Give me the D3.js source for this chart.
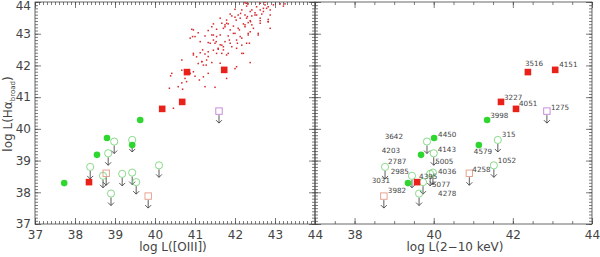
<!DOCTYPE html>
<html>
<head>
<meta charset="utf-8">
<script src="https://cdn.jsdelivr.net/npm/d3@7"></script>
<style>
  body { margin: 0; background: #fff; }
  text { font-family: "DejaVu Sans", sans-serif; fill: #444; }
</style>
</head>
<body>
<svg id="chart" width="600" height="257"></svg>
<script>
// ---- data: log L(Halpha broad) against log L([OIII]) and log L(2-10 keV)
// broad-line objects (red squares)
var redIds  = ["3516", "4151", "3227", "4051", "4395"];
var redOIII = [40.80, 41.73, 40.68, 40.18, 38.35];
var redX    = [42.38, 43.07, 41.70, 42.08, 39.58];
var redHa   = [41.79, 41.86, 40.85, 40.63, 38.32];

// detections (filled green circles)
var detIds  = ["3998", "4450", "4579", "4203", "3031"];
var detOIII = [39.63, 38.80, 39.43, 38.55, 37.73];
var detX    = [41.35, 40.01, 41.14, 39.68, 39.35];
var detHa   = [40.28, 39.71, 39.49, 39.18, 38.29];

// upper limits (open green circles)
var limIds  = ["3642", "315", "4143", "2787", "2985", "1052", "5005", "4036", "5077", "4278"];
var limOIII = [38.98, 39.43, 38.83, 38.38, 38.70, 40.10, 39.18, 39.43, 39.53, 38.90];
var limX    = [39.83, 41.62, 40.00, 38.77, 39.45, 41.52, 39.91, 39.98, 39.73, 39.63];
var limHa   = [39.60, 39.65, 39.23, 38.80, 38.52, 38.85, 38.58, 38.62, 38.32, 37.96];

// upper limits (open squares)
var sqIds   = ["1275", "4258", "3982"];
var sqOIII  = [41.60, 38.78, 39.83];
var sqX     = [42.86, 40.90, 38.74];
var sqHa    = [40.56, 38.60, 37.88];

// comparison sample (small red dots, left panel only)
var cloudOIII = [
  42.25, 42.33, 42.29, 42.63, 42.75, 42.83, 43.13, 43.21, 42.71, 42.00,
  42.17, 42.38, 42.50, 42.63, 42.88, 41.88, 42.08, 42.25, 42.42, 42.54,
  42.67, 41.92, 42.00, 42.13, 42.29, 42.38, 42.63, 42.83, 41.63, 41.79,
  41.46, 41.67, 41.75, 41.83, 41.96, 42.21, 42.33, 42.42, 42.63, 42.83,
  41.42, 40.96, 41.08, 41.33, 41.54, 41.71, 41.88, 42.08, 42.25, 42.38,
  42.58, 42.88, 40.88, 41.00, 41.25, 41.42, 41.54, 41.63, 41.83, 42.00,
  42.13, 42.33, 41.13, 41.33, 41.46, 41.50, 41.63, 41.75, 41.88, 42.04,
  42.29, 41.71, 42.17, 41.13, 41.25, 41.33, 41.46, 41.58, 41.67, 41.79,
  42.04, 42.17, 40.96, 41.04, 41.17, 41.29, 41.42, 41.08, 41.21, 42.38,
  42.04, 40.67, 40.42, 40.67, 40.88, 40.96, 41.00, 40.75, 40.67, 40.79,
  41.21, 41.33, 40.58, 41.25, 41.50, 40.36, 41.79, 40.46, 40.69, 42.00,
  40.39, 42.28, 42.75, 43.25, 40.92, 40.94, 40.96, 41.11, 41.17, 41.19,
  41.28, 41.33, 41.38, 41.46, 41.53, 41.54, 41.58, 41.63, 41.67, 41.71,
  41.75, 41.79, 41.83, 41.86, 41.92, 41.96, 42.03, 42.06, 42.11, 42.14,
  42.17, 42.21, 42.25, 42.31, 42.33, 42.36, 42.39, 42.42, 42.46, 42.50,
  42.54, 42.58, 42.63, 42.71, 42.79, 42.83, 42.88, 42.96
];
var cloudHa = [
  43.98, 43.94, 43.87, 43.96, 43.91, 43.85, 43.94, 43.87, 43.80, 43.77,
  43.75, 43.70, 43.66, 43.75, 43.75, 43.62, 43.59, 43.59, 43.56, 43.59,
  43.62, 43.56, 43.52, 43.49, 43.49, 43.41, 43.41, 43.45, 43.49, 43.43,
  43.31, 43.33, 43.28, 43.31, 43.24, 43.31, 43.35, 43.28, 43.33, 43.38,
  43.22, 43.12, 43.03, 43.10, 43.14, 43.17, 43.12, 43.17, 43.22, 43.06,
  43.01, 43.17, 42.86, 42.91, 42.93, 42.96, 42.91, 42.96, 42.93, 43.01,
  42.91, 42.96, 42.75, 42.72, 42.80, 42.70, 42.65, 42.75, 42.70, 42.80,
  42.70, 42.59, 42.64, 42.40, 42.36, 42.43, 42.48, 42.51, 42.38, 42.33,
  42.54, 42.38, 42.33, 42.27, 42.12, 42.17, 42.09, 42.06, 42.01, 42.09,
  41.96, 42.17, 41.75, 41.85, 41.75, 41.80, 41.66, 41.59, 41.45, 41.49,
  41.64, 41.75, 41.33, 41.33, 41.31, 41.28, 41.59, 40.65, 41.25, 41.90,
  41.67, 43.96, 43.99, 43.94, 43.14, 42.91, 42.38, 41.54, 42.12, 42.49,
  42.01, 42.28, 42.70, 42.96, 42.75, 42.38, 42.54, 42.07, 42.64, 42.49,
  43.22, 43.33, 42.38, 42.80, 42.59, 43.01, 43.43, 42.70, 43.12, 43.64,
  42.86, 42.38, 43.28, 43.54, 43.01, 42.70, 43.38, 43.75, 43.17, 43.59,
  43.85, 42.96, 43.49, 43.70, 43.80, 43.38, 43.59, 43.91
];

var leftTicks  = ["37", "38", "39", "40", "41", "42", "43", "44"];
var rightTicks = ["38", "40", "42", "44"];
var yTicks     = ["37", "38", "39", "40", "41", "42", "43", "44"];

// ---- layout
var svg = d3.select("#chart");
var plotTop = 2, plotBottom = 224;
var xL = d3.scaleLinear().domain([37, 44]).range([35, 315]);
var xR = d3.scaleLinear().domain([37, 44]).range([315, 592]);
var y  = d3.scaleLinear().domain([37, 44]).range([plotBottom, plotTop]);

var frameColor = "#444";

function tidy(g) {
    g.select(".domain").remove();
    g.selectAll("line").attr("stroke", frameColor).attr("stroke-width", 0.7);
    g.selectAll("text").attr("font-size", "12px").attr("fill", "#444");
}

function drawAxes(x, majors, minorStep, labels, yLabels) {
    var minors = d3.range(37, 44.0001, minorStep);
    // bottom
    svg.append("g").attr("transform", "translate(0," + plotBottom + ")")
        .call(d3.axisBottom(x).tickValues(minors).tickSize(-3).tickFormat("")).call(tidy);
    svg.append("g").attr("transform", "translate(0," + plotBottom + ")")
        .call(d3.axisBottom(x).tickValues(majors).tickSize(-6).tickPadding(6)
              .tickFormat(function(d) { return labels.indexOf(String(d)) >= 0 ? d : ""; }))
        .call(tidy);
    // top
    svg.append("g").attr("transform", "translate(0," + plotTop + ")")
        .call(d3.axisTop(x).tickValues(minors).tickSize(-3).tickFormat("")).call(tidy);
    svg.append("g").attr("transform", "translate(0," + plotTop + ")")
        .call(d3.axisTop(x).tickValues(majors).tickSize(-6).tickFormat("")).call(tidy);

    var x0 = x.range()[0], x1 = x.range()[1];
    var yMinor = d3.range(37, 44.0001, 0.1);
    var yMajor = yTicks.map(Number);
    svg.append("g").attr("transform", "translate(" + x0 + ",0)")
        .call(d3.axisLeft(y).tickValues(yMinor).tickSize(-3).tickFormat("")).call(tidy);
    var ly = svg.append("g").attr("transform", "translate(" + x0 + ",0)")
        .call(d3.axisLeft(y).tickValues(yMajor).tickSize(-6).tickPadding(4)
              .tickFormat(yLabels ? d3.format("d") : ""))
        .call(tidy);
    ly.selectAll(".tick text").filter(function(d) { return d === 44; }).attr("dy", "0.6em");
    svg.append("g").attr("transform", "translate(" + x1 + ",0)")
        .call(d3.axisRight(y).tickValues(yMinor).tickSize(-3).tickFormat("")).call(tidy);
    svg.append("g").attr("transform", "translate(" + x1 + ",0)")
        .call(d3.axisRight(y).tickValues(yMajor).tickSize(-6).tickFormat("")).call(tidy);

    svg.append("rect")
        .attr("x", x0).attr("y", plotTop)
        .attr("width", x1 - x0).attr("height", plotBottom - plotTop)
        .attr("fill", "none").attr("stroke", frameColor).attr("stroke-width", 0.8);
}

drawAxes(xL, d3.range(37, 45, 1), 0.1, leftTicks, true);
drawAxes(xR, d3.range(38, 45, 2), 0.5, rightTicks, false);

// ---- axis titles
svg.append("text").attr("x", 173).attr("y", 251)
    .attr("text-anchor", "middle").attr("font-size", "12px")
    .text("log L([OIII])");
svg.append("text").attr("x", 455).attr("y", 251)
    .attr("text-anchor", "middle").attr("font-size", "12px")
    .text("log L(2\u221210 keV)");
var yt = svg.append("text")
    .attr("transform", "translate(12,114) rotate(-90)")
    .attr("text-anchor", "middle").attr("font-size", "12px");
yt.append("tspan").text("log L(H\u03b1");
yt.append("tspan").attr("font-size", "7px").attr("dy", "3").text("broad");
yt.append("tspan").attr("dy", "-3").text(")");

// ---- markers
svg.append("clipPath").attr("id", "clipL").append("rect")
    .attr("x", 35).attr("y", plotTop).attr("width", 280).attr("height", plotBottom - plotTop);

var cloud = d3.zip(cloudOIII, cloudHa);
svg.append("g").attr("clip-path", "url(#clipL)")
    .selectAll("rect").data(cloud).join("rect")
    .attr("x", function(d) { return xL(d[0]) - 0.75; })
    .attr("y", function(d) { return y(d[1]) - 0.75; })
    .attr("width", 1.5).attr("height", 1.5)
    .attr("fill", "#d8262a");

var arrowColor = "#333";
function arrows(g, pts) {
    g.selectAll("path.arr").data(pts).join("path").attr("class", "arr")
        .attr("d", function(d) {
            var cx = d[0], cy = d[1];
            return "M" + cx + "," + (cy + 4) + "V" + (cy + 12) +
                   "M" + (cx - 3) + "," + (cy + 9) + "L" + cx + "," + (cy + 12) + "L" + (cx + 3) + "," + (cy + 9);
        })
        .attr("fill", "none").attr("stroke", arrowColor).attr("stroke-width", 0.8);
}

var sqColour = { "1275": "#c57fd8", "4258": "#e39a86", "3982": "#e39a86" };

var labelNudge = {
    "3516": [-3, -9, "start"], "4151": [4, -5, "start"], "3227": [3, -4, "start"],
    "4051": [3, -5, "start"], "4395": [2, -6, "start"], "3998": [3, -4, "start"],
    "4450": [4, -4, "start"], "4579": [-5, 6, "start"], "4203": [-21, -4, "end"],
    "3031": [-18, -3, "end"], "3642": [-24, -5, "end"], "315": [4, -5, "start"],
    "4143": [4, -4, "start"], "2787": [3, -5, "start"], "2985": [-3, -4, "end"],
    "1052": [4, -5, "start"], "5005": [5, -12, "start"], "4036": [5, -1, "start"],
    "5077": [9, 2, "start"], "4278": [19, 0, "start"], "1275": [4, -4, "start"],
    "4258": [3, -4, "start"], "3982": [4, -6, "start"]
};

function panel(x, oRed, oDet, oLim, oSq, withLabels) {
    var g = svg.append("g");
    var lim = d3.zip(oLim, limHa, limIds).map(function(d) { return [x(d[0]), y(d[1]), d[2]]; });
    var sq  = d3.zip(oSq, sqHa, sqIds).map(function(d) { return [x(d[0]), y(d[1]), d[2]]; });
    var det = d3.zip(oDet, detHa, detIds).map(function(d) { return [x(d[0]), y(d[1]), d[2]]; });
    var red = d3.zip(oRed, redHa, redIds).map(function(d) { return [x(d[0]), y(d[1]), d[2]]; });

    arrows(g.append("g"), lim.concat(sq));

    g.append("g").selectAll("circle").data(lim).join("circle")
        .attr("cx", function(d) { return d[0]; }).attr("cy", function(d) { return d[1]; })
        .attr("r", 3.6).attr("fill", "none").attr("stroke", "#6fcf6f").attr("stroke-width", 0.8);
    g.append("g").selectAll("rect").data(sq).join("rect")
        .attr("x", function(d) { return d[0] - 3.2; }).attr("y", function(d) { return d[1] - 3.2; })
        .attr("width", 6.4).attr("height", 6.4).attr("fill", "none")
        .attr("stroke", function(d) { return sqColour[d[2]]; }).attr("stroke-width", 0.9);
    g.append("g").selectAll("circle").data(det).join("circle")
        .attr("cx", function(d) { return d[0]; }).attr("cy", function(d) { return d[1]; })
        .attr("r", 3.3).attr("fill", "#2fd62f");
    g.append("g").selectAll("rect").data(red).join("rect")
        .attr("x", function(d) { return d[0] - 3.3; }).attr("y", function(d) { return d[1] - 3.3; })
        .attr("width", 6.6).attr("height", 6.6).attr("fill", "#e8221b");

    if (withLabels) {
        var all = red.concat(det, lim, sq);
        g.append("g").selectAll("text").data(all).join("text")
            .attr("x", function(d) { return d[0] + labelNudge[d[2]][0]; })
            .attr("y", function(d) { return d[1] + labelNudge[d[2]][1]; })
            .attr("text-anchor", function(d) { return labelNudge[d[2]][2]; })
            .attr("dominant-baseline", "central")
            .attr("font-size", "7.2px").attr("fill", "#444")
            .text(function(d) { return d[2]; });
    }
}

panel(xL, redOIII, detOIII, limOIII, sqOIII, false);
panel(xR, redX, detX, limX, sqX, true);
</script>
</body>
</html>
